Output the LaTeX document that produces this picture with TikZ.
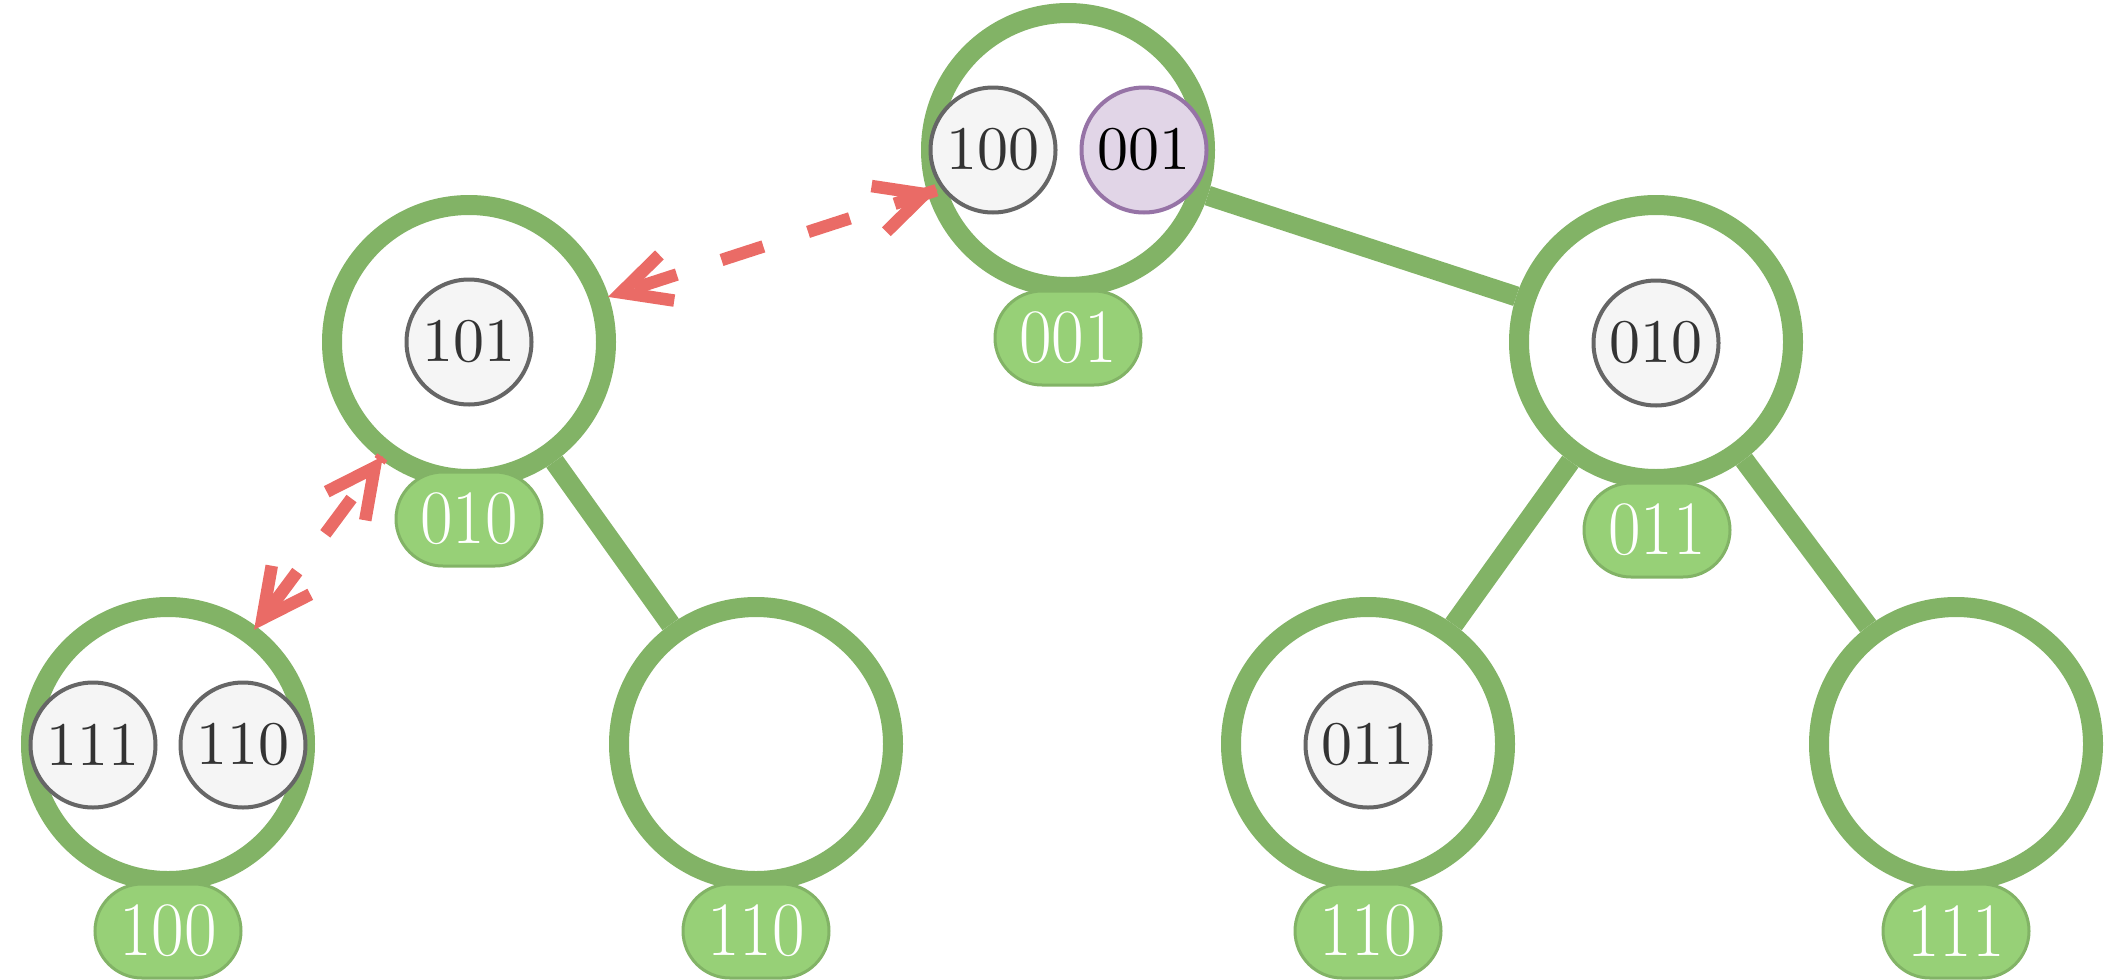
\documentclass[tikz,border=0pt]{standalone}
\usetikzlibrary{calc,backgrounds}
\definecolor{ringgreen}{HTML}{82B366}
\definecolor{pillfill}{HTML}{97D077}
\definecolor{keydraw}{HTML}{666666}
\definecolor{keyfill}{HTML}{F5F5F5}
\definecolor{keytext}{HTML}{333333}
\definecolor{purpledraw}{HTML}{9673A6}
\definecolor{purplefill}{HTML}{E1D5E7}
\definecolor{redc}{HTML}{EA6B66}
\newcommand\keylabel[1]{\scalebox{6.2}{#1}}
\newcommand\pilllabel[1]{\scalebox{0.92}[1]{#1}}
\tikzset{
  bignode/.style={circle, draw=ringgreen, line width=20pt, fill=white, minimum size=274pt, inner sep=0pt},
  keynode/.style={circle, draw=keydraw, fill=keyfill, line width=4pt, minimum size=125pt, inner sep=0pt, text=keytext, font=\normalsize},
  hilite/.style={keynode, draw=purpledraw, fill=purplefill, text=black},
  pill/.style={rectangle, rounded corners=47pt, draw=ringgreen, fill=pillfill, line width=3pt, minimum width=146pt, minimum height=94pt, inner sep=0pt, text=white, font=\fontsize{77pt}{77pt}\selectfont},
  edge/.style={draw=ringgreen, line width=20pt},
  redshaft/.style={draw=redc, line width=12.5pt, dash pattern=on 44pt off 47pt, dash phase=63.5pt},
  redhead/.style={draw=redc, line width=12.5pt, line join=miter},
}
\begin{document}
\begin{tikzpicture}[x=1pt,y=-1pt]
\useasboundingbox (0,0) rectangle (2110,980);
% tree nodes
\node[bignode] (root) at (1068,150) {};
\node[bignode] (l) at (469,342) {};
\node[bignode] (r) at (1656,342) {};
\node[bignode] (ll) at (168,744) {};
\node[bignode] (lr) at (756,744) {};
\node[bignode] (rl) at (1368,744) {};
\node[bignode] (rr) at (1956,744) {};
% edges
\begin{pgfonlayer}{background}
\draw[edge] (root) -- (r);
\draw[edge] (l) -- (lr);
\draw[edge] (r) -- (rl);
\draw[edge] (r) -- (rr);
\end{pgfonlayer}
% keys
\node[keynode] (k100) at (993,150) {\keylabel{100}};
\node[hilite] (k001) at (1144,150) {\keylabel{001}};
\node[keynode] (k101) at (469,342) {\keylabel{101}};
\node[keynode] (k010) at (1656,343) {\keylabel{010}};
\node[keynode] (k111) at (93,745) {\keylabel{111}};
\node[keynode] (k110) at (243,745) {\keylabel{110}};
\node[keynode] (k011) at (1368,745) {\keylabel{011}};
% labels
\node[pill] (p001) at (1068,338) {\pilllabel{001}};
\node[pill] (p010) at (469,519) {\pilllabel{010}};
\node[pill] (p011) at (1657,530) {\pilllabel{011}};
\node[pill] (p100) at (168,931) {\pilllabel{100}};
\node[pill] (p110a) at (756,931) {\pilllabel{110}};
\node[pill] (p110b) at (1368,931) {\pilllabel{110}};
\node[pill] (p111) at (1956,931) {\pilllabel{111}};
% dashed double arrows
\coordinate (a1) at (l.18.7);
\coordinate (b1) at ($(root.197.9)!10pt!(root.center)$);
\coordinate (a2) at ($(ll.53.8)!3pt!(ll.center)$);
\coordinate (b2) at ($(l.233.2)!3pt!(l.center)$);
\draw[redshaft] (a1) -- (b1);
\draw[redhead] ($(a1)!61pt!(b1)!24pt!90:(b1)$) -- ($(a1)!13pt!(b1)$) -- ($(a1)!61pt!(b1)!24pt!-90:(b1)$);
\draw[redhead] ($(b1)!61pt!(a1)!24pt!90:(a1)$) -- ($(b1)!13pt!(a1)$) -- ($(b1)!61pt!(a1)!24pt!-90:(a1)$);
\draw[redshaft] (a2) -- (b2);
\draw[redhead] ($(a2)!61pt!(b2)!24pt!90:(b2)$) -- ($(a2)!13pt!(b2)$) -- ($(a2)!61pt!(b2)!24pt!-90:(b2)$);
\draw[redhead] ($(b2)!61pt!(a2)!24pt!90:(a2)$) -- ($(b2)!13pt!(a2)$) -- ($(b2)!61pt!(a2)!24pt!-90:(a2)$);
\end{tikzpicture}
\end{document}
